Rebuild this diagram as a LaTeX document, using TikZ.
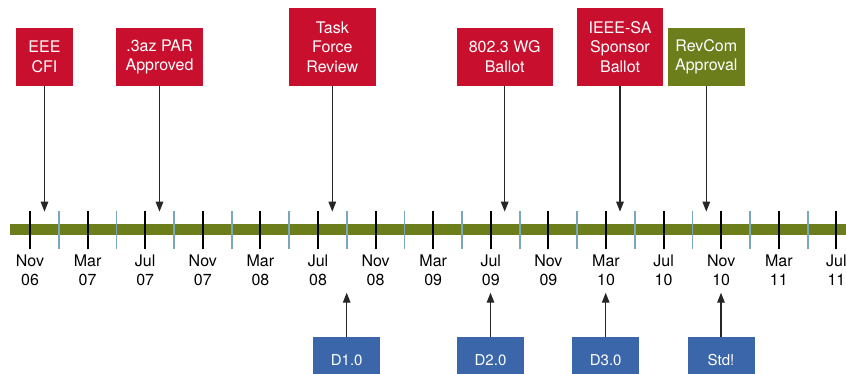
\documentclass[tikz,border=0pt]{standalone}
\usepackage{fontspec}
\setmainfont{TeX Gyre Heros}
\usetikzlibrary{arrows.meta,positioning}

\definecolor{evred}{HTML}{C8102E}
\definecolor{evgreen}{HTML}{6C7D1C}
\definecolor{drblue}{HTML}{3B66A9}
\definecolor{qtick}{HTML}{7BA7BE}

\begin{document}
\begin{tikzpicture}[x=1pt, y=1pt,
    event/.style={fill=evred, text=white, inner sep=0pt, minimum height=58pt, align=center, font=\fontsize{16}{19.3}\selectfont},
    tall/.style={minimum height=77.4pt},
    draft/.style={fill=drblue, text=white, inner sep=0pt, minimum width=67pt, text height=28.3pt, text depth=12.7pt, font=\fontsize{15}{18}\selectfont},
    month/.style={anchor=north, inner sep=0pt, align=center, font=\fontsize{16}{19}\selectfont},
    arr/.style={-{Triangle[length=10pt, width=7.5pt]}, line width=1.3pt, black!85}
]
\useasboundingbox (0,0) rectangle (846,374);

% timeline bar and ticks
\draw[evgreen, line width=11pt] (10,144) -- (850,144);
\foreach \i in {0,...,13}
    \draw[qtick, line width=1.8pt] ({58.8+57.6*\i},124.7) -- ++(0,38.6);
\foreach \m [count=\i from 0] in {Nov\\06, Mar\\07, Jul\\07, Nov\\07, Mar\\08, Jul\\08, Nov\\08, Mar\\09, Jul\\09, Nov\\09, Mar\\10, Jul\\10, Nov\\10, Mar\\11, Jul\\11} {
    \draw[line width=2pt] ({30+57.6*\i},124.7) -- ++(0,38.6);
    \node[month] (m\i) at ({30+57.6*\i},119) {\m};
}

\coordinate (above) at (0,162.3);
\coordinate (below) at (0,81.3);

% milestones
\node[event, minimum width=57.6pt] (cfi) at (44.5,317.3) {EEE\\CFI};
\node[event, minimum width=86.4pt] (par) at (159.5,317.3) {.3az PAR\\Approved};
\node[event, tall, minimum width=86.7pt] (tf) at (332.3,327) {Task\\Force\\Review};
\node[event, minimum width=96pt] (wg) at (504.7,317.3) {802.3 WG\\Ballot};
\node[event, tall, minimum width=86.7pt] (sa) at (620,327) {IEEE-SA\\Sponsor\\Ballot};
\node[event, fill=evgreen, minimum width=77.3pt] (rev) at (706.3,317.3) {RevCom\\Approval};

\draw[arr] (cfi) -- (cfi |- above);
\draw[arr] (par) -- (par |- above);
\draw[arr] (tf) -- (tf |- above);
\draw[arr] (wg) -- (wg |- above);
\draw[arr] (sa) -- (sa |- above);
\draw[arr] (rev) -- (rev |- above);

% drafts
\node[draft] (d1) at (346.7,16.7) {D1.0};
\node[draft] (d2) at (490.5,16.7) {D2.0};
\node[draft] (d3) at (605.7,16.7) {D3.0};
\node[draft] (std) at (721,16.7) {Std!};

\draw[arr] (d1) -- (d1 |- below);
\draw[arr] (d2) -- (d2 |- below);
\draw[arr] (d3) -- (d3 |- below);
\draw[arr] (std) -- (std |- below);
\end{tikzpicture}
\end{document}
